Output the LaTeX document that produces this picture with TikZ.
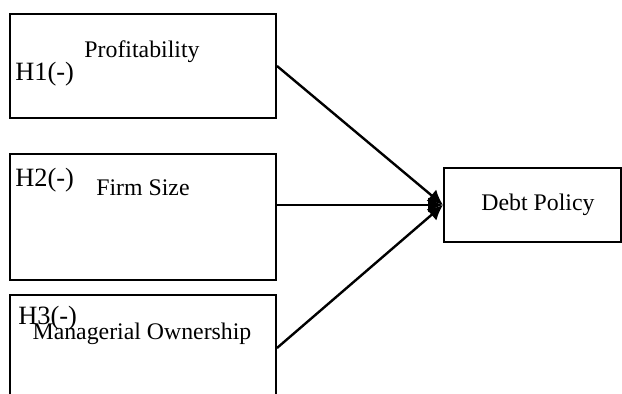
\documentclass[tikz,border=0pt]{standalone}
\usepackage{fontspec}
\setmainfont{Liberation Serif}
\usetikzlibrary{arrows.meta}

\begin{document}
\begin{tikzpicture}[x=0.5pt, y=-0.5pt,
varbox/.style={rectangle, draw=black, line width=1pt, inner sep=0pt},
varname/.style={font=\fontsize{11.9}{14}\selectfont, inner sep=0pt, anchor=base},
hypname/.style={font=\fontsize{13.2}{15}\selectfont, inner sep=0pt, anchor=base west},
effect/.style={-{Latex[length=7.5pt, width=7.5pt]}, line width=1.2pt},
]
\clip (0,0) rectangle (622,394);

% Defining the boxes
\node[varbox, minimum width=133pt, minimum height=52pt] (profit) at (143,66) {};
\node[varbox, minimum width=133pt, minimum height=63pt] (size) at (143,217) {};
\node[varbox, minimum width=133pt, minimum height=53pt] (owner) at (143,348) {};
\node[varbox, minimum width=88.5pt, minimum height=37pt] (debt) at (532.5,205) {};

% Defining the labels
\node[varname] (profit_text) at (142,58) {Profitability};
\node[hypname] (h1) at (15,81) {H1(-)};
\node[varname] (size_text) at (143,196) {Firm Size};
\node[hypname] (h2) at (15,187) {H2(-)};
\node[varname] (owner_text) at (142,340) {Managerial Ownership};
\node[hypname] (h3) at (18,325) {H3(-)};
\node[varname] (debt_text) at (538,211) {Debt Policy};

% Relationships between the variables
\draw[effect] (profit.east) -- (debt.west);
\draw[effect] (size.east |- debt.west) -- (debt.west);
\draw[effect] (owner.east) -- (debt.west);

\end{tikzpicture}
\end{document}
